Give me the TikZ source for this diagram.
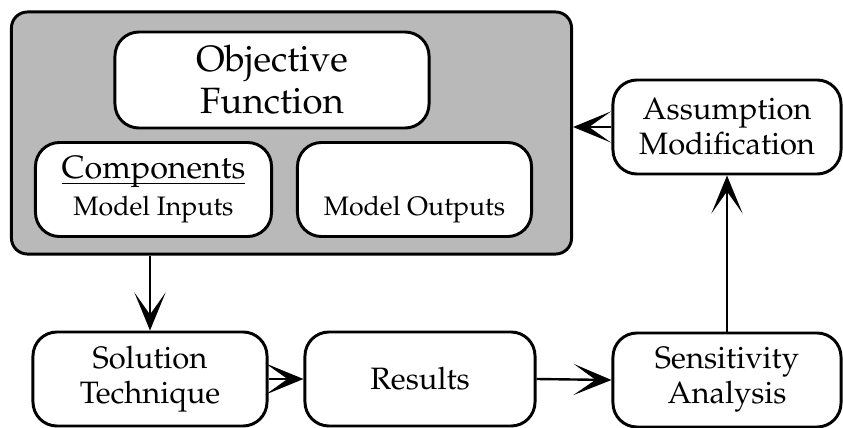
\documentclass[tikz,border=0pt]{standalone}
\usepackage[T1]{fontenc}
\usepackage{mathpazo}
\usepackage{tikz}
\usetikzlibrary{arrows.meta}

\newcommand{\nodepth}[1]{\raisebox{0pt}[\height][0pt]{#1}}

\begin{document}
\begin{tikzpicture}[x=0.025cm, y=-0.025cm,
		box/.style={draw, line width=2.1pt, rounded corners=0.6cm, fill=white, align=center, inner sep=0pt},
		link/.style={line width=1.7pt, -{Stealth[length=0.95cm, width=0.78cm, inset=0.55cm]}}]
		\useasboundingbox (0,0) rectangle (843,428);
		%\draw [help lines] (0,0) grid (843,428);
		\node [box, fill=gray!55, rounded corners=0.4cm, minimum width=14.0cm, minimum height=6.05cm] (model) at (291.5,133) {};
		\node [box, minimum width=7.85cm, minimum height=2.4cm, font=\fontsize{26}{30}\selectfont] (obj) at (272,80) {Objective\\Function};
		\node [box, minimum width=5.9cm, minimum height=2.35cm, font=\fontsize{23}{24}\selectfont] (comp) at (153.5,189.5) {\underline{\nodepth{Components}}\\[2pt]{\fontsize{19}{20}\selectfont Model Inputs}};
		\node [box, minimum width=5.85cm, minimum height=2.35cm, font=\fontsize{23}{24}\selectfont] (outp) at (414.5,189.5) {\nodepth{\phantom{Components}}\\[2pt]{\fontsize{19}{20}\selectfont Model Outputs}};
		\node [box, minimum width=5.7cm, minimum height=2.35cm, font=\fontsize{22}{25}\selectfont] (assum) at (727,127) {Assumption\\Modification};
		\node [box, minimum width=5.7cm, minimum height=2.35cm, font=\fontsize{22}{25}\selectfont] (sens) at (727,380) {Sensitivity\\Analysis};
		\node [box, minimum width=5.85cm, minimum height=2.35cm, font=\fontsize{22}{25}\selectfont] (sol) at (150,379) {Solution\\Technique};
		\node [box, minimum width=5.75cm, minimum height=2.35cm, font=\fontsize{22}{25}\selectfont] (res) at (420,379) {Results};
		\draw [link] (model.south -| sol.north) -- (sol.north);
		\draw [link] (sol.east) -- (res.west);
		\draw [link] (res.east) -- (sens.west);
		\draw [link] (sens.north) -- (assum.south);
		\draw [link] (assum.west) -- (model.east |- assum.west);
\end{tikzpicture}
\end{document}
